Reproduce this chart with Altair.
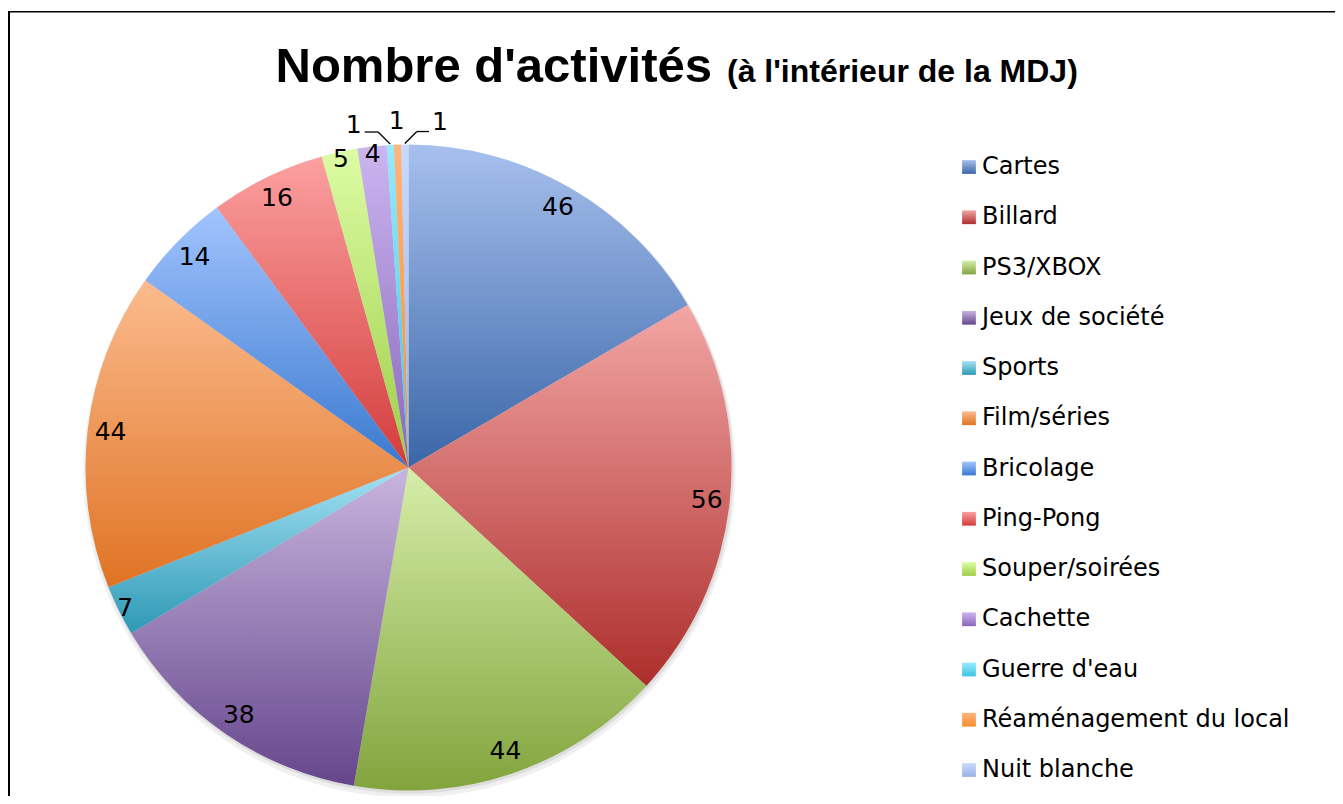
import math
import altair as alt
import pandas as pd

# ---------------- data ----------------
categories = ["Cartes", "Billard", "PS3/XBOX", "Jeux de société", "Sports",
              "Film/séries", "Bricolage", "Ping-Pong", "Souper/soirées",
              "Cachette", "Guerre d'eau", "Réaménagement du local", "Nuit blanche"]
values = [46, 56, 44, 38, 7, 44, 14, 16, 5, 4, 1, 1, 1]
TITLE = "Nombre d'activités"
SUBTITLE = "(à l'intérieur de la MDJ)"

# ---------------- styles ----------------
top_colors = ["#a7c0ee", "#f2a6a5", "#d5eea9", "#c8b5de", "#a4e2f4", "#fbbb8e",
              "#a2c4fe", "#fca0a0", "#ddfca5", "#cbb6f0", "#98e9fc", "#fdb57d", "#cadafd"]
bottom_colors = ["#3a66a8", "#ad2e2c", "#82a43d", "#65468c", "#2e98b5", "#e07324",
                 "#3a79cf", "#d33c3b", "#9dcd48", "#8a66ba", "#3dc4e5", "#f78e2e", "#98b2e4"]

W, H = 1327, 788
CX, CY, R = 400.5, 459.5, 323
TOTAL = sum(values)
TWO_PI = 2 * math.pi
LABEL_FONT = "DejaVu Sans"
VALUE_SIZE = 25
LEGEND_SIZE = 24

df = pd.DataFrame({"cat": categories, "value": values, "idx": list(range(len(values)))})
title_df = pd.DataFrame({"t": [TITLE], "s": [SUBTITLE]})

base = (
    alt.Chart(df)
    .transform_window(cum="sum(value)", sort=[alt.SortField("idx")], frame=[None, 0])
    .transform_calculate(start="datum.cum - datum.value",
                         mid="datum.cum - datum.value / 2")
)

theta_scale = alt.Scale(domain=[0, TOTAL], range=[0, TWO_PI])


def grad(i):
    return {"gradient": "linear", "x1": 0, "x2": 0, "y1": 0, "y2": 1,
            "stops": [{"offset": 0, "color": top_colors[i]},
                      {"offset": 1, "color": bottom_colors[i]}]}


layers = []

# border (left and top only visible)
tb = alt.Chart(title_df)
layers.append(tb.mark_rule(color="black", strokeWidth=2).encode(
    x=alt.value(1), y=alt.value(3), y2=alt.value(H)))
layers.append(tb.mark_rule(color="black", strokeWidth=1.6).encode(
    x=alt.value(0), x2=alt.value(W), y=alt.value(3.7)))

# soft shadow
layers.append(tb.mark_arc(theta=0, theta2=TWO_PI, outerRadius=R + 3, fill="#000000",
                          opacity=0.06).encode(x=alt.value(CX + 1), y=alt.value(CY + 4)))
layers.append(tb.mark_arc(theta=0, theta2=TWO_PI, outerRadius=R + 1, fill="#000000",
                          opacity=0.08).encode(x=alt.value(CX + 1), y=alt.value(CY + 2)))

# slices
for i in range(len(categories)):
    layers.append(
        base.transform_filter(f"datum.idx == {i}")
        .mark_arc(fill=grad(i), outerRadius=R, strokeWidth=0)
        .encode(
            theta=alt.Theta("start:Q", scale=theta_scale, stack=None),
            theta2="cum:Q",
            x=alt.value(CX), y=alt.value(CY),
        )
    )

# value labels inside
layers.append(
    base.transform_filter("datum.value >= 2")
    .transform_calculate(lr="datum.value < 10 ? 316 : 300")
    .mark_text(font=LABEL_FONT, fontSize=VALUE_SIZE, color="#000000",
               align="center", baseline="middle")
    .encode(
        theta=alt.Theta("mid:Q", scale=theta_scale, stack=None),
        radius=alt.Radius("lr:Q", scale=None),
        text="value:Q",
        x=alt.value(CX), y=alt.value(CY),
    )
)

# small slices: outside labels with leader lines
small = (
    base.transform_filter("datum.value < 2")
    .transform_joinaggregate(c="mean(mid)")
    .transform_calculate(la="datum.c + (datum.mid - datum.c) * 5.5")
    .transform_calculate(
        a=f"datum.la / {TOTAL} * {TWO_PI}",
        ma=f"datum.mid / {TOTAL} * {TWO_PI}",
        s="datum.la > datum.mid + 0.1 ? 1 : (datum.la < datum.mid - 0.1 ? -1 : 0)",
    )
    .transform_calculate(
        lx=f"{CX} + 347 * sin(datum.a)",
        ly=f"{CY} - 347 * cos(datum.a)",
        ex=f"{CX} + {R + 1} * sin(datum.ma)",
        ey=f"{CY} - {R + 1} * cos(datum.ma)",
    )
    .transform_calculate(
        bx="datum.ex + datum.s * 12",
        by="datum.ey - 12",
        hx="datum.lx - datum.s * 11",
    )
)
layers.append(
    small.mark_text(font=LABEL_FONT, fontSize=VALUE_SIZE, color="#000000",
                    align="center", baseline="middle")
    .encode(x=alt.X("lx:Q", scale=None), y=alt.Y("ly:Q", scale=None), text="value:Q")
)
leader = small.transform_filter("datum.s != 0")
layers.append(
    leader.mark_rule(color="#000000", strokeWidth=1.3)
    .encode(x=alt.X("ex:Q", scale=None), y=alt.Y("ey:Q", scale=None),
            x2="bx:Q", y2="by:Q")
)
layers.append(
    leader.mark_rule(color="#000000", strokeWidth=1.3)
    .encode(x=alt.X("bx:Q", scale=None), y=alt.Y("by:Q", scale=None),
            x2="hx:Q", y2="by:Q")
)

# legend (manual, gradient squares)
leg = base.transform_calculate(gy="159 + datum.idx * 50.25")
for i in range(len(categories)):
    layers.append(
        leg.transform_filter(f"datum.idx == {i}")
        .mark_square(fill=grad(i), size=190, opacity=1, strokeWidth=0)
        .encode(x=alt.value(961), y=alt.Y("gy:Q", scale=None))
    )
layers.append(
    leg.mark_text(font=LABEL_FONT, fontSize=LEGEND_SIZE, color="#000000",
                  align="left", baseline="middle")
    .encode(x=alt.value(974), y=alt.Y("gy:Q", scale=None), text="cat:N")
)

# title
layers.append(
    tb.mark_text(font="Liberation Sans", fontWeight="bold", fontSize=49,
                 color="#000000", align="right", baseline="alphabetic")
    .encode(x=alt.value(704), y=alt.value(74), text="t:N")
)
layers.append(
    tb.mark_text(font="Liberation Sans", fontWeight="bold", fontSize=32,
                 color="#000000", align="left", baseline="alphabetic")
    .encode(x=alt.value(719), y=alt.value(74), text="s:N")
)

chart = (
    alt.layer(*layers)
    .properties(width=W, height=H, padding=0,
                autosize=alt.AutoSizeParams(type="none"))
    .configure_view(stroke=None)
)

chart.save("out.html", embed_options={"renderer": "svg", "actions": False})
